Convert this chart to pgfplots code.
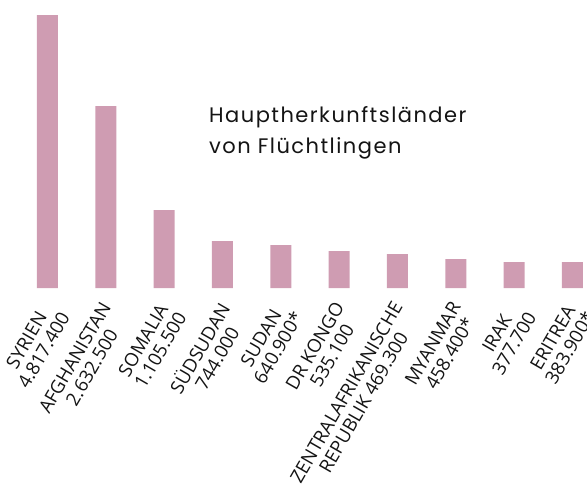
\documentclass[border=0pt]{standalone}
\usepackage{fontspec}
\setmainfont{Open Sans}
\newfontfamily\titlefont[LetterSpace=7]{Poppins}
\usepackage{pgfplots}
\pgfplotsset{compat=1.18}
\definecolor{barpink}{RGB}{207,156,178}
\definecolor{txt}{RGB}{20,20,20}
\begin{document}
\begin{tikzpicture}
\begin{axis}[
  at={(0,0)}, anchor=origin,
  x=58.33pt, y=0.05667pt,
  xmin=-0.5, xmax=9.5, ymin=0, ymax=5000,
  axis line style={draw=none},
  major tick length=0pt,
  ytick=\empty,
  xtick={0,1,2,3,4,5,6,7,8,9},
  xticklabels={{SYRIEN\\4.817.400},{AFGHANISTAN\\2.632.500},{SOMALIA\\1.105.500},{SÜDSUDAN\\744.000},{SUDAN\\640.900*},{DR KONGO\\535.100},{ZENTRALAFRIKANISCHE\\REPUBLIK 469.300},{MYANMAR\\458.400*},{IRAK\\377.700},{ERITREA\\383.900*}},
  xticklabel style={xshift=-6pt, yshift=-12pt, rotate=60, anchor=north east, inner sep=0pt, align=center, text=txt,
    font=\fontsize{18.6}{19.8}\selectfont},
  clip=false,
  ybar, bar width=21pt,
]
\addplot[ybar, bar width=21pt, fill=barpink, draw=none] coordinates {
(0,4817.4) (1,3211.6) (2,1376.4) (3,829.4) (4,758.8) (5,652.9) (6,600.0) (7,511.7) (8,458.8) (9,458.8)};
\end{axis}
\node[anchor=base west, inner sep=0pt, text=txt, font=\titlefont\fontsize{21}{29}\selectfont] at (161.5pt,165pt) {Hauptherkunftsländer};
\node[anchor=base west, inner sep=0pt, text=txt, font=\titlefont\fontsize{21}{29}\selectfont] at (161.5pt,135pt) {von Flüchtlingen};
\pgfresetboundingbox
\useasboundingbox (-47.5pt,-200pt) rectangle (539.5pt,288pt);
\end{tikzpicture}
\end{document}
